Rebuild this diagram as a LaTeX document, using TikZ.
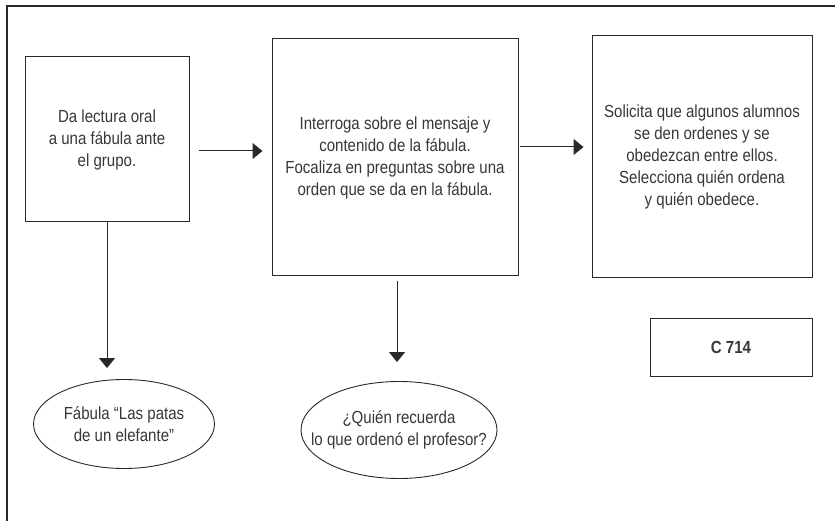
\documentclass[tikz,border=0pt]{standalone}
\usepackage{fontspec}
\setmainfont{Liberation Sans}[FakeStretch=0.86]
\usepackage{xcolor}
\usetikzlibrary{arrows.meta,positioning,shapes.geometric,calc}
\definecolor{inkgray}{RGB}{40,40,40}
\definecolor{txtgray}{RGB}{55,55,55}
\tikzset{
  % caja de actividad
  box/.style={
    draw=inkgray,
    line width=1pt,
    inner sep=0pt,
    align=center,
    text=txtgray,
    font=\fontsize{17.5}{22}\selectfont
  },
  % elipse de recurso / pregunta
  bubble/.style={
    ellipse,
    draw=inkgray,
    line width=0.9pt,
    inner xsep=-30pt,
    inner ysep=-12pt,
    align=center,
    text=txtgray,
    font=\fontsize{17.5}{22}\selectfont
  },
  % flechas
  arr/.style={-{Triangle[length=10pt,width=16pt]}, line width=1pt, inkgray},
}

\begin{document}
\begin{tikzpicture}[x=1pt, y=-1pt]

    % marco y area
    \useasboundingbox (0,0) rectangle (835,521);
    \coordinate (fo) at (7,6);
    \draw[inkgray, line width=1.3pt] (835,6) -- (fo) -- (7,521);

    % Actividades
    \node[box, minimum width=164pt, minimum height=165pt] (b1) at (107,139.5)
        {Da lectura oral\\a una fábula ante\\el grupo.};
    \node[box, minimum width=246pt, minimum height=237pt] (b2) at (395,157.5)
        {Interroga sobre el mensaje y\\contenido de la fábula.\\Focaliza en preguntas sobre una\\orden que se da en la fábula.};
    \node[box, minimum width=220pt, minimum height=242pt] (b3) at (702,157)
        {Solicita que algunos alumnos\\se den ordenes y se\\obedezcan entre ellos.\\Selecciona quién ordena\\y quién obedece.};

    % Clave
    \node[box, minimum width=162pt, minimum height=58pt, font=\fontsize{17.5}{20}\selectfont\bfseries] (key) at (731,347) {C 714};

    % Elipses
    \node[bubble, minimum width=181pt, minimum height=89pt] (e1) at (124,424)
        {Fábula “Las patas\\de un elefante”};
    \node[bubble, minimum width=196pt, minimum height=97pt] (e2) at (399,430)
        {¿Quién recuerda\\lo que ordenó el profesor?};

    % Flechas horizontales
    \draw[arr, shorten <=9pt, shorten >=9pt] ([yshift=-11.5pt]b1.east) -- ([yshift=-11.5pt]b1.east -| b2.west);
    \draw[arr, shorten <=1pt, shorten >=8pt] ([yshift=10.5pt]b2.east) -- ([yshift=10.5pt]b2.east -| b3.west);

    % Flechas verticales
    \draw[arr, shorten >=11pt] (b1.south) -- (b1.south |- e1.north);
    \draw[arr, shorten <=5pt, shorten >=19pt] ([xshift=2pt]b2.south) -- ([xshift=2pt]b2.south |- e2.north);
\end{tikzpicture}
\end{document}
